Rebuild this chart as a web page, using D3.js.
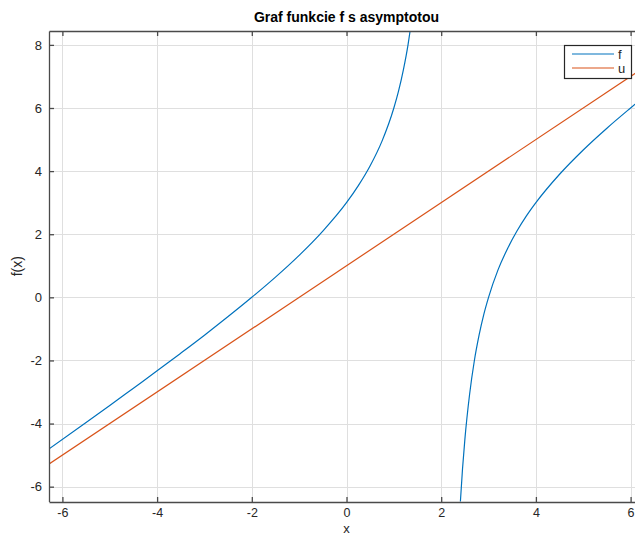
<!DOCTYPE html>
<html lang="sk">
<head>
<meta charset="utf-8">
<title>Graf funkcie f s asymptotou</title>
<script src="https://cdn.jsdelivr.net/npm/d3@7"></script>
<style>
  body { margin: 0; background: #fff; }
  svg text { font-family: "Liberation Sans", Arial, Helvetica, sans-serif; fill: #262626; }
</style>
</head>
<body>
<div id="chart"></div>
<script>
// values
var fLeftX  = [-6.28, -5.5, -5, -4.5, -4, -3.5, -3, -2.5, -2, -1.5, -1, -0.5, 0, 0.25, 0.5, 0.75, 1, 1.1, 1.2, 1.3, 1.4];
var fLeftY  = [-4.80, -3.97, -3.43, -2.88, -2.33, -1.77, -1.2, -0.61, 0, 0.64, 1.33, 2.1, 3, 3.54, 4.17, 4.95, 6, 6.54, 7.2, 8.01, 9.07];
var fRightX = [2.38, 2.4, 2.45, 2.5, 2.6, 2.7, 2.8, 2.9, 3, 3.2, 3.4, 3.6, 3.8, 4, 4.5, 5, 5.5, 6, 6.28];
var fRightY = [-7.15, -6.6, -5.44, -4.5, -3.07, -2.01, -1.2, -0.54, 0, 0.87, 1.54, 2.1, 2.58, 3, 3.9, 4.67, 5.36, 6, 6.35];
var uX = [-6.28, 6.28];
var uY = [-5.28, 7.28];
var xTicks = [-6, -4, -2, 0, 2, 4, 6];
var yTicks = [-6, -4, -2, 0, 2, 4, 6, 8];
var seriesNames = ["f", "u"];
var seriesColors = ["#0072BD", "#D95319"];

var width = 635, height = 536;
var pLeft = 49, pRight = 644, pTop = 31, pBottom = 501.5;

var svg = d3.select("#chart").append("svg")
    .attr("width", width)
    .attr("height", height);

var x = d3.scaleLinear().domain([-2 * Math.PI, 2 * Math.PI]).range([pLeft, pRight]);
var y = d3.scaleLinear().domain([-6.47, 8.44]).range([pBottom, pTop]);

svg.append("clipPath").attr("id", "clip")
  .append("rect")
    .attr("x", pLeft).attr("y", pTop)
    .attr("width", pRight - pLeft).attr("height", pBottom - pTop);

// grid
var grid = svg.append("g").attr("stroke", "#dfdfdf").attr("stroke-width", 1);
grid.selectAll(".gx").data(xTicks).enter().append("line")
    .attr("x1", function(d) { return Math.round(x(d)) + 0.5; })
    .attr("x2", function(d) { return Math.round(x(d)) + 0.5; })
    .attr("y1", pTop).attr("y2", pBottom);
grid.selectAll(".gy").data(yTicks).enter().append("line")
    .attr("y1", function(d) { return Math.round(y(d)) + 0.5; })
    .attr("y2", function(d) { return Math.round(y(d)) + 0.5; })
    .attr("x1", pLeft).attr("x2", pRight);

// curves
function pts(xs, ys) { return xs.map(function(v, i) { return [v, ys[i]]; }); }
var line = d3.line()
    .x(function(d) { return x(d[0]); })
    .y(function(d) { return y(d[1]); })
    .curve(d3.curveMonotoneX);

var plot = svg.append("g").attr("clip-path", "url(#clip)");
plot.append("path").datum(pts(uX, uY))
    .attr("d", line).attr("fill", "none")
    .attr("stroke", seriesColors[1]).attr("stroke-width", 1.2);
[pts(fLeftX, fLeftY), pts(fRightX, fRightY)].forEach(function(seg) {
  plot.append("path").datum(seg)
      .attr("d", line).attr("fill", "none")
      .attr("stroke", seriesColors[0]).attr("stroke-width", 1.2);
});

// axes
var axisColor = "#4a4a4a";
var fmt = function(d) { return String(d); };
var xAxis = svg.append("g").attr("transform", "translate(0," + Math.round(pBottom) + ")")
    .call(d3.axisBottom(x).tickValues(xTicks).tickSizeInner(-5).tickSizeOuter(0).tickFormat(fmt));
var xTop = svg.append("g").attr("transform", "translate(0," + pTop + ")")
    .call(d3.axisTop(x).tickValues(xTicks).tickSizeInner(-5).tickSizeOuter(0).tickFormat(""));
var yAxis = svg.append("g").attr("transform", "translate(" + pLeft + ",0)")
    .call(d3.axisLeft(y).tickValues(yTicks).tickSizeInner(-5).tickSizeOuter(0).tickFormat(fmt));

[xAxis, xTop, yAxis].forEach(function(g) {
  g.select(".domain").attr("stroke", axisColor).attr("stroke-width", 1.3);
  g.selectAll(".tick line").attr("stroke", axisColor).attr("stroke-width", 1.3);
  g.selectAll(".tick text").attr("font-size", 13).attr("fill", "#262626")
    .style("font-family", "'Liberation Sans', Arial, sans-serif");
});
xAxis.selectAll(".tick text").attr("font-size", 12.5).attr("dy", "0.71em").attr("y", 6);
yAxis.selectAll(".tick text").attr("x", -7);

// title and labels
svg.append("text")
    .attr("x", (pLeft + pRight) / 2).attr("y", 22)
    .attr("text-anchor", "middle")
    .attr("font-size", 14).attr("font-weight", "bold")
    .style("fill", "#000")
    .text("Graf funkcie f s asymptotou");
svg.append("text")
    .attr("x", (pLeft + pRight) / 2).attr("y", 533)
    .attr("text-anchor", "middle")
    .attr("font-size", 13)
    .text("x");
svg.append("text")
    .attr("transform", "translate(22," + ((pTop + pBottom) / 2) + ") rotate(-90)")
    .attr("text-anchor", "middle")
    .attr("font-size", 14)
    .text("f(x)");

// legend
var legend = svg.append("g");
legend.append("rect")
    .attr("x", 564.5).attr("y", 45.5).attr("width", 67).attr("height", 33)
    .attr("fill", "#fff").attr("stroke", "#262626").attr("stroke-width", 1.2);
seriesNames.forEach(function(name, i) {
  var ly = 54 + i * 14;
  legend.append("line")
      .attr("x1", 572).attr("x2", 614).attr("y1", ly).attr("y2", ly)
      .attr("stroke", seriesColors[i]).attr("stroke-width", 1.2);
  legend.append("text")
      .attr("x", 618).attr("y", ly + 4.5)
      .attr("font-size", 13)
      .text(name);
});
</script>
</body>
</html>
